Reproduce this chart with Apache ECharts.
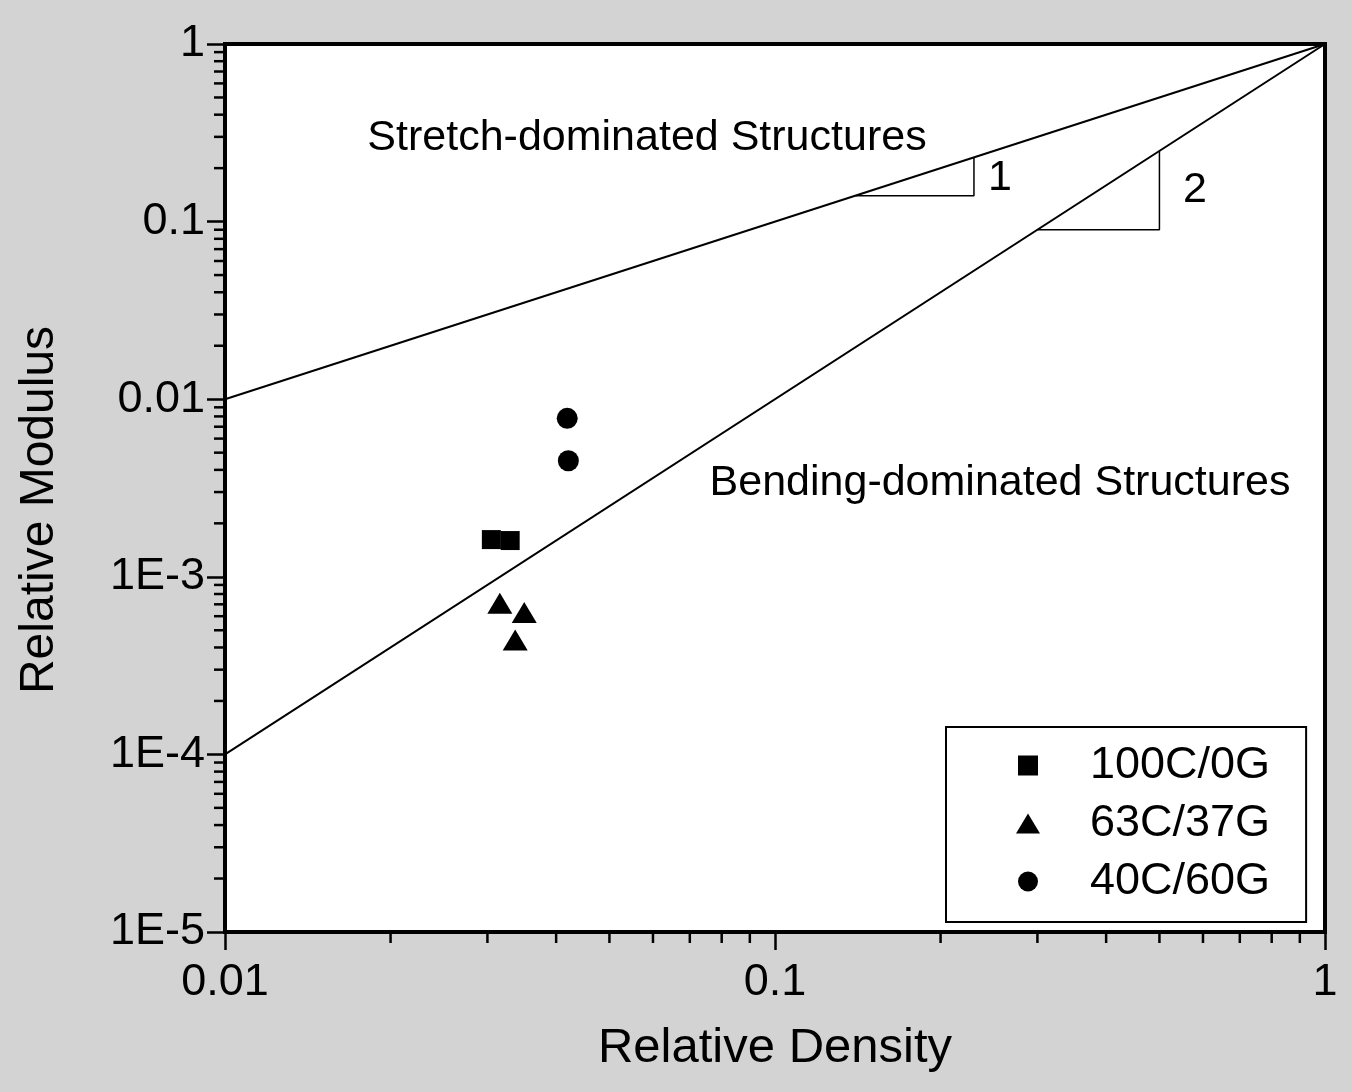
<!DOCTYPE html>
<html>
<head>
<meta charset="utf-8">
<script src="https://cdn.jsdelivr.net/npm/echarts@6.0.0/dist/echarts.min.js"></script>
<style>
  html, body { margin: 0; padding: 0; background: #d3d3d3; }
  #chart { width: 1352px; height: 1092px; }
</style>
</head>
<body>
<div id="chart"></div>
<script>
// data (relative density, relative modulus)
const series100C = [[0.0305, 1.62e-3], [0.033, 1.60e-3]]
const series63C = [[0.0316, 7.1e-4], [0.035, 6.3e-4], [0.0337, 4.4e-4]]
const series40C = [[0.0419, 7.8e-3], [0.0421, 4.5e-3]]
const seriesNames = ['100C/0G', '63C/37G', '40C/60G']

// scaling guide lines E ~ rho and E ~ rho^2
const stretchLine = [[0.01, 0.01], [1, 1]]
const bendingLine = [[0.01, 1e-4], [1, 1]]
// slope triangles
const slopeTri1 = [[0.14, 0.14], [0.23, 0.14], [0.23, 0.23]]
const slopeTri2 = [[0.3, 0.09], [0.5, 0.09], [0.5, 0.25]]

// tick labels by decade exponent
const xTickLabels = { '-2': '0.01', '-1': '0.1', '0': '1' }
const yTickLabels = { '-5': '1E-5', '-4': '1E-4', '-3': '1E-3', '-2': '0.01', '-1': '0.1', '0': '1' }

const FONT = 'Liberation Sans, Arial, sans-serif'
const X_MIN = 0.01, X_MAX = 1, Y_MIN = 1e-5, Y_MAX = 1

const minorTicks = (lo, hi) => {
  const out = []
  for (let e = lo; e < hi; e++) {
    for (let m = 2; m <= 9; m++) out.push(m * Math.pow(10, e))
  }
  return out
}
const xMinor = minorTicks(-2, 0)
const yMinor = minorTicks(-5, 0)

const expLabel = (table) => (v) => {
  const e = Math.round(Math.log10(v))
  return table[e] !== undefined ? table[e] : ''
}

const squarePath = 'path://M0 0L10 0L10 10L0 10Z'
const trianglePath = 'path://M6 0L12 10L0 10Z'

const chart = echarts.init(document.getElementById('chart'), null, { renderer: 'canvas' })

const option = {
  backgroundColor: '#d3d3d3',
  animation: false,
  grid: {
    left: 225, top: 44, right: 27, bottom: 160,
    show: true, backgroundColor: '#fff', borderColor: '#000', borderWidth: 4,
    containLabel: false, outerBoundsMode: 'none'
  },
  xAxis: {
    type: 'log', logBase: 10, min: X_MIN, max: X_MAX,
    axisLine: { show: true, lineStyle: { color: '#000', width: 4 } },
    axisTick: { show: true, inside: false, length: 18, lineStyle: { color: '#000', width: 2.5 } },
    axisLabel: {
      formatter: expLabel(xTickLabels), margin: 28, fontSize: 45,
      fontFamily: FONT, color: '#000', showMinLabel: true, showMaxLabel: true
    },
    splitLine: { show: false },
    name: 'Relative Density', nameLocation: 'middle', nameGap: 92,
    nameTextStyle: { fontSize: 49, fontFamily: FONT, color: '#000' }
  },
  yAxis: {
    type: 'log', logBase: 10, min: Y_MIN, max: Y_MAX,
    axisLine: { show: true, lineStyle: { color: '#000', width: 4 } },
    axisTick: { show: true, inside: false, length: 18, lineStyle: { color: '#000', width: 2.5 } },
    axisLabel: {
      formatter: expLabel(yTickLabels), margin: 20, fontSize: 45,
      fontFamily: FONT, color: '#000', showMinLabel: true, showMaxLabel: true
    },
    splitLine: { show: false },
    name: 'Relative Modulus', nameLocation: 'middle', nameGap: 161,
    nameTextStyle: { fontSize: 48, fontFamily: FONT, color: '#000', padding: [0, 44, 0, 0] }
  },
  legend: {
    data: seriesNames,
    orient: 'vertical',
    left: 946, top: 727,
    padding: [16, 36, 18, 70],
    itemWidth: 114, itemHeight: 20, itemGap: 13,
    backgroundColor: '#fff', borderColor: '#000', borderWidth: 2,
    textStyle: { fontSize: 45, fontFamily: FONT, color: '#000' },
    selectedMode: false
  },
  graphic: [
    { type: 'text', x: 647, y: 138, style: { text: 'Stretch-dominated Structures', font: '43px ' + FONT, fill: '#000', align: 'center', verticalAlign: 'middle' } },
    { type: 'text', x: 1000, y: 483, style: { text: 'Bending-dominated Structures', font: '43px ' + FONT, fill: '#000', align: 'center', verticalAlign: 'middle' } },
    { type: 'text', x: 1000, y: 178, style: { text: '1', font: '43px ' + FONT, fill: '#000', align: 'center', verticalAlign: 'middle' } },
    { type: 'text', x: 1195, y: 190, style: { text: '2', font: '43px ' + FONT, fill: '#000', align: 'center', verticalAlign: 'middle' } }
  ],
  series: [
    { name: 'stretch', type: 'line', data: stretchLine, showSymbol: false, silent: true, lineStyle: { color: '#000', width: 2 }, z: 2 },
    { name: 'bending', type: 'line', data: bendingLine, showSymbol: false, silent: true, lineStyle: { color: '#000', width: 2 }, z: 2 },
    { name: 'slope1', type: 'line', data: slopeTri1, showSymbol: false, silent: true, lineStyle: { color: '#000', width: 1.5 }, z: 2 },
    { name: 'slope2', type: 'line', data: slopeTri2, showSymbol: false, silent: true, lineStyle: { color: '#000', width: 1.5 }, z: 2 },
    { name: seriesNames[0], type: 'scatter', data: series100C, symbol: squarePath, symbolSize: 19, itemStyle: { color: '#000', opacity: 1 }, z: 5 },
    { name: seriesNames[1], type: 'scatter', data: series63C, symbol: trianglePath, symbolSize: [25, 21], itemStyle: { color: '#000', opacity: 1 }, z: 5 },
    { name: seriesNames[2], type: 'scatter', data: series40C, symbol: 'circle', symbolSize: 21, itemStyle: { color: '#000', opacity: 1 }, z: 5 },
    // minor ticks on the log axes
    {
      name: 'yMinorTicks', type: 'custom', silent: true, clip: false, z: 6,
      data: yMinor.map(v => [X_MIN, v]),
      renderItem: (params, api) => {
        const p = api.coord([api.value(0), api.value(1)])
        return { type: 'line', shape: { x1: p[0] - 11, y1: p[1], x2: p[0], y2: p[1] }, style: { stroke: '#000', lineWidth: 2.5 } }
      }
    },
    {
      name: 'xMinorTicks', type: 'custom', silent: true, clip: false, z: 6,
      data: xMinor.map(v => [v, Y_MIN]),
      renderItem: (params, api) => {
        const p = api.coord([api.value(0), api.value(1)])
        return { type: 'line', shape: { x1: p[0], y1: p[1], x2: p[0], y2: p[1] + 11 }, style: { stroke: '#000', lineWidth: 2.5 } }
      }
    }
  ]
}

chart.setOption(option)
</script>
</body>
</html>
